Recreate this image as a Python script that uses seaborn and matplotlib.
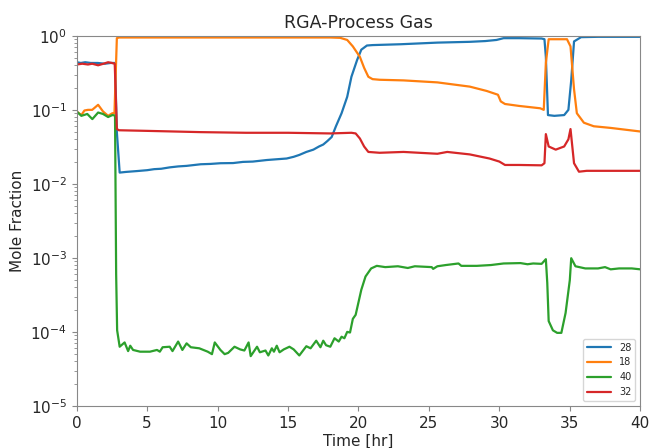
import pandas as pd
import matplotlib
matplotlib.use('Agg')
import matplotlib.pyplot as plt
from matplotlib.ticker import LogLocator, NullFormatter
import seaborn as sns

# mass 28
t28 = [0, 0.3, 0.6, 1.0, 1.5, 2.0, 2.4, 2.72, 2.85, 3.05, 3.5, 4.3, 5.0, 5.5, 6.0, 6.6, 7.2, 7.8,
       8.8, 9.5, 10.2, 11.1, 11.8, 12.5, 13.5, 14.2, 14.9, 15.4, 15.8, 16.3, 16.8, 17.2, 17.5, 17.8,
       18.1, 18.4, 18.8, 19.2, 19.5, 19.9, 20.2, 20.6, 21.0, 21.5, 23.0, 25.6, 27.9, 29.0, 29.8,
       30.3, 31.4, 33.0, 33.2, 33.3, 33.45, 33.9, 34.6, 34.9, 35.1, 35.3, 35.8, 37.0, 40.0]
y28 = [0.44, 0.43, 0.44, 0.43, 0.43, 0.42, 0.43, 0.43, 0.05, 0.0142, 0.0145, 0.0149, 0.0153, 0.0158,
       0.016, 0.0167, 0.0172, 0.0175, 0.0184, 0.0186, 0.019, 0.0191, 0.0198, 0.020, 0.021, 0.0215,
       0.022, 0.0232, 0.0246, 0.027, 0.029, 0.032, 0.034, 0.038, 0.043, 0.06, 0.09, 0.15, 0.28, 0.47,
       0.65, 0.74, 0.75, 0.755, 0.77, 0.81, 0.83, 0.85, 0.88, 0.93, 0.93, 0.92, 0.9, 0.52, 0.085,
       0.083, 0.085, 0.1, 0.25, 0.84, 0.96, 0.97, 0.97]

# mass 18
t18 = [0, 0.33, 0.55, 0.8, 1.1, 1.52, 1.87, 2.23, 2.53, 2.68, 2.85, 3.0, 10.0, 17.0, 18.0, 18.7,
       19.2, 19.6, 20.1, 20.4, 20.7, 21.0, 21.5, 23.2, 25.6, 27.9, 29.1, 29.9, 30.1, 30.4, 31.4,
       32.9, 33.15, 33.3, 33.5, 34.8, 35.05, 35.3, 35.5, 36.0, 36.7, 37.9, 40.0]
y18 = [0.095, 0.085, 0.098, 0.1, 0.1, 0.117, 0.095, 0.083, 0.09, 0.09, 0.93, 0.95, 0.95, 0.95,
       0.95, 0.94, 0.88, 0.72, 0.52, 0.37, 0.28, 0.26, 0.255, 0.25, 0.235, 0.206, 0.18, 0.16, 0.13,
       0.12, 0.113, 0.105, 0.1, 0.43, 0.9, 0.9, 0.72, 0.19, 0.09, 0.067, 0.06, 0.057, 0.051]

# mass 40
t40 = [0, 0.33, 0.75, 1.11, 1.52, 1.87, 2.23, 2.53, 2.72, 2.8, 2.87, 3.05, 3.4, 3.65, 3.8, 4.0,
       4.5, 5.2, 5.7, 5.9, 6.1, 6.6, 6.8, 7.2, 7.5, 7.8, 8.1, 8.7, 9.3, 9.6, 9.8, 10.2, 10.5,
       10.75, 11.2, 11.6, 11.9, 12.2, 12.35, 12.8, 13.0, 13.4, 13.6, 13.85, 14.0, 14.2, 14.4, 14.7,
       15.1, 15.4, 15.8, 16.3, 16.6, 17.0, 17.3, 17.5, 17.7, 18.0, 18.3, 18.6, 18.8, 19.0, 19.2,
       19.4, 19.6, 19.8, 20.2, 20.5, 20.9, 21.3, 21.9, 22.8, 23.5, 24.0, 25.2, 25.3, 25.6, 26.2,
       27.1, 27.3, 28.4, 29.4, 30.3, 31.5, 32.0, 32.4, 33.0, 33.3, 33.4, 33.5, 33.8, 34.1, 34.4,
       34.7, 35.0, 35.1, 35.4, 36.1, 37.0, 37.5, 37.9, 38.5, 39.4, 40.0]
y40 = [0.095, 0.083, 0.088, 0.075, 0.092, 0.088, 0.08, 0.085, 0.084, 0.0006, 1.05e-4, 6.3e-5,
       7.2e-5, 5.5e-5, 6.5e-5, 5.7e-5, 5.4e-5, 5.4e-5, 5.7e-5, 5.4e-5, 6.2e-5, 6.3e-5, 5.5e-5,
       7.4e-5, 5.7e-5, 7.0e-5, 6.2e-5, 6.0e-5, 5.4e-5, 5.0e-5, 7.2e-5, 5.7e-5, 5.0e-5, 5.2e-5,
       6.3e-5, 5.8e-5, 5.6e-5, 7.2e-5, 4.7e-5, 6.3e-5, 5.3e-5, 5.6e-5, 4.8e-5, 6.0e-5, 5.4e-5,
       6.5e-5, 5.3e-5, 5.8e-5, 6.3e-5, 5.8e-5, 4.8e-5, 6.4e-5, 6.0e-5, 7.6e-5, 6.2e-5, 7.6e-5,
       6.6e-5, 6.3e-5, 8.2e-5, 7.4e-5, 8.6e-5, 8.2e-5, 1.0e-4, 9.8e-5, 1.5e-4, 1.7e-4, 3.7e-4,
       5.6e-4, 7.2e-4, 7.8e-4, 7.5e-4, 7.7e-4, 7.3e-4, 7.7e-4, 7.5e-4, 7.1e-4, 7.7e-4, 8.0e-4,
       8.4e-4, 7.8e-4, 7.8e-4, 8.0e-4, 8.4e-4, 8.5e-4, 8.2e-4, 8.4e-4, 8.3e-4, 9.6e-4, 4.6e-4,
       1.4e-4, 1.05e-4, 9.7e-5, 9.7e-5, 1.8e-4, 5.0e-4, 9.9e-4, 7.7e-4, 7.2e-4, 7.2e-4, 7.5e-4,
       7.0e-4, 7.2e-4, 7.2e-4, 7.0e-4]

# mass 32
t32 = [0, 0.4, 0.8, 1.1, 1.52, 1.9, 2.23, 2.5, 2.7, 2.85, 3.0, 5.0, 8.8, 12.0, 15.0, 18.0, 19.5,
       19.8, 20.1, 20.4, 20.7, 21.5, 23.2, 25.6, 26.3, 27.9, 29.3, 30.0, 30.4, 31.4, 33.0, 33.2,
       33.3, 33.5, 34.0, 34.6, 34.9, 35.05, 35.3, 35.65, 36.2, 40.0]
y32 = [0.41, 0.42, 0.41, 0.42, 0.40, 0.42, 0.44, 0.43, 0.42, 0.055, 0.053, 0.052, 0.05, 0.049,
       0.049, 0.048, 0.049, 0.048, 0.041, 0.032, 0.027, 0.0263, 0.027, 0.0255, 0.027, 0.025, 0.022,
       0.020, 0.018, 0.018, 0.0178, 0.019, 0.047, 0.032, 0.029, 0.032, 0.04, 0.055, 0.019, 0.0146,
       0.015, 0.015]

species = ['28', '18', '40', '32']
colors = ['#1f77b4', '#ff7f0e', '#2ca02c', '#d62728']

# long form table for seaborn
frames = []
for name, t, y in zip(species, [t28, t18, t40, t32], [y28, y18, y40, y32]):
    frames.append(pd.DataFrame({'time': t, 'frac': y, 'mass': name}))
df = pd.concat(frames, ignore_index=True)

sns.set_style('ticks')
plt.rcParams['font.family'] = ['DejaVu Sans']

fig, ax = plt.subplots(figsize=(6.5, 4.48), dpi=100)
fig.subplots_adjust(left=0.118, right=0.985, bottom=0.094, top=0.92)

sns.lineplot(data=df, x='time', y='frac', hue='mass', hue_order=species,
             palette=colors, estimator=None, linewidth=1.6, ax=ax)

ax.set_yscale('log')
ax.set_ylim(1e-5, 1)
ax.set_xlim(0, 40)
ax.yaxis.set_minor_locator(LogLocator(base=10, subs=range(2, 10), numticks=20))
ax.yaxis.set_minor_formatter(NullFormatter())
ax.set_title('RGA-Process Gas', fontsize=12.5)
ax.set_xlabel('Time [hr]', fontsize=11, labelpad=2)
ax.set_ylabel('Mole Fraction', fontsize=11)
ax.tick_params(which='major', labelsize=11, length=3.5, color='#888888')
ax.tick_params(axis='y', which='minor', length=2, color='#888888', left=True)

for sp in ax.spines.values():
    sp.set_color('#888888')

handles, labels = ax.get_legend_handles_labels()
ax.legend(handles, labels, loc='lower right', fontsize=7, handlelength=2.5)

plt.savefig('out.png', dpi=100)
